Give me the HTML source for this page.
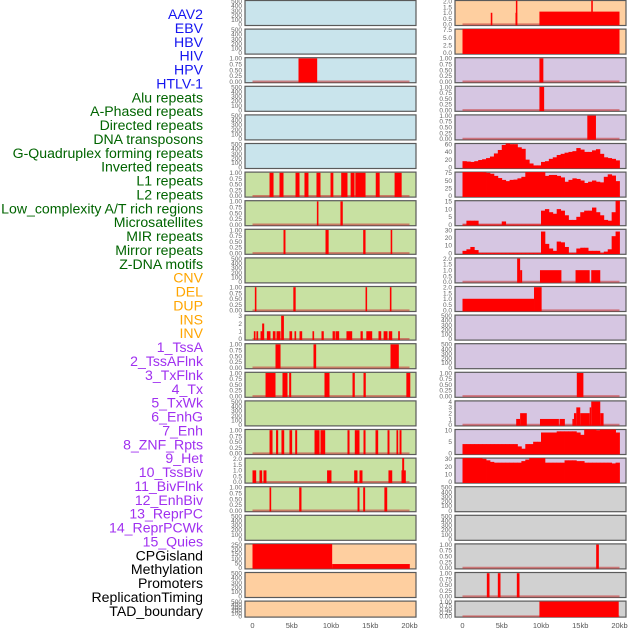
<!DOCTYPE html>
<html><head><meta charset="utf-8"><style>
html,body{margin:0;padding:0;background:#fff;}
svg{display:block;font-family:"Liberation Sans",sans-serif;}
</style></head><body>
<svg id="chart" width="630" height="630" viewBox="0 0 630 630"></svg>
<script>
// ---- track labels ----
const trackLabels = ["AAV2","EBV","HBV","HIV","HPV","HTLV-1","Alu repeats","A-Phased repeats","Directed repeats","DNA transposons","G-Quadruplex forming repeats","Inverted repeats","L1 repeats","L2 repeats","Low_complexity A/T rich regions","Microsatellites","MIR repeats","Mirror repeats","Z-DNA motifs","CNV","DEL","DUP","INS","INV","1_TssA","2_TssAFlnk","3_TxFlnk","4_Tx","5_TxWk","6_EnhG","7_Enh","8_ZNF_Rpts","9_Het","10_TssBiv","11_BivFlnk","12_EnhBiv","13_ReprPC","14_ReprPCWk","15_Quies","CPGisland","Methylation","Promoters","ReplicationTiming","TAD_boundary"];
const labelGroups = ["virus","virus","virus","virus","virus","virus","rep","rep","rep","rep","rep","rep","rep","rep","rep","rep","rep","rep","rep","sv","sv","sv","sv","sv","chr","chr","chr","chr","chr","chr","chr","chr","chr","chr","chr","chr","chr","chr","chr","oth","oth","oth","oth","oth"];
const xTickValues = [0,5,10,15,20];
const xTickLabels = ["0","5kb","10kb","15kb","20kb"];

// ---- left column data: [startKb, endKb, value] ----
const segsL2 = [[5.86,8.24,1]];
const segsL6 = [[2.17,2.68,1],[3.44,3.95,1],[5.48,5.99,1],[6.62,7.13,1],[8.15,8.66,1],[9.94,10.3,1],[11.3,12.1,1],[12.5,13.0,1],[13.1,14.4,1],[15.7,16.2,1],[18.1,19.0,1]];
const segsL7 = [[8.2,8.4,1],[11.2,11.5,1]];
const segsL8 = [[3.95,4.2,1],[9.3,9.7,1],[14.1,14.4,1],[17.6,17.8,1]];
const segsL10 = [[0.3,0.5,1],[5.2,5.5,1],[14.4,14.6,1],[17.5,17.7,1]];
const segsL11 = [[0.17,0.38,1],[0.5,0.72,1],[1.02,1.3,1],[1.23,1.49,2],[1.83,2.29,1],[2.59,2.93,1],[3.06,3.57,1],[3.65,4.0,3],[4.71,5.05,1],[5.35,5.56,1],[5.99,6.33,1],[7.64,7.85,1],[8.79,9.08,1],[10.2,10.5,1],[10.57,11.04,1],[11.97,12.7,1],[13.76,14.05,1],[14.5,15.25,1],[16.05,16.4,1],[16.7,17.2,1],[17.36,17.8,1],[18.56,18.77,1]];
const segsL12 = [[2.93,3.57,1],[7.77,8.11,1],[17.58,18.64,1]];
const segsL13 = [[1.66,2.93,1],[3.82,4.46,1],[4.67,4.93,1],[9.17,9.81,1],[12.74,13.03,1],[14.14,14.43,1],[19.6,20.1,1]];
const segsL15 = [[2.17,2.55,1],[3.0,3.27,1],[3.69,4.04,1],[4.71,5.05,1],[5.44,5.69,1],[7.9,8.54,1],[8.66,9.26,1],[12.1,12.36,1],[13.03,13.63,1],[14.14,14.4,1],[15.67,16.01,1],[17.2,17.45,1],[18.34,18.56,1],[18.73,18.98,1]];
const segsL16 = [[0,0.47,1],[0.89,1.23,1],[1.4,1.78,1],[9.5,10.06,1],[12.95,13.37,1],[13.63,14.01,1],[17.32,17.8,1],[18.98,19.53,1],[19.07,19.32,2.2]];
const segsL17 = [[2.17,2.38,1],[5.95,6.24,1],[13.38,13.63,1],[14.1,14.35,1],[16.8,17.16,1]];
const segsL19 = [[0,10.15,255],[10.15,20.04,40]];

// ---- right column data ----
const segsR0 = [[3.6,3.8,1],[6.75,6.96,1],[6.8,6.96,2.5],[9.8,20,1.1],[16.4,16.6,2.5]];
const segsR1 = [[0,20,8.6]];
const segsR2 = [[9.8,10.3,1]];
const segsR3 = [[9.8,10.4,1]];
const segsR4 = [[15.9,17.0,1]];
const profR5 = [16,15,14,16,19,21,24,28,36,45,58,65,60,60,52,48,20,10,5,5,14,16,22,26,32,35,38,40,42,50,46,40,40,44,47,35,26,24,22,18];
const profR6 = [80,79,79,78,78,77,75,72,65,58,52,48,52,53,57,62,84,90,92,91,90,65,68,68,65,60,46,52,57,55,50,42,46,50,46,44,62,70,66,48];
const profR7 = [0,2.5,2.5,2.5,0,0,0,0,0,0,2,0,0,0,0,0,0,0,0,0,9,10,8,7,10,9,6,3,3,5,8,9,9,11,8,6,3,2.5,8,19];
const profR8 = [3,5,8,4,0,0,0,0,0,0,0,0,0,0,0,0,0,0,0,0,28,12,6,3,15,14,8,0,0,6,7,7,3,3,3,0,2,5,22,28];
const segsR9 = [[6.96,7.34,2],[7.34,7.6,1],[9.87,12.6,1],[14.4,16.2,1],[16.4,17.55,1]];
const segsR10 = [[0,9.11,1],[9.11,10.08,2]];
const segsR13 = [[14.56,15.4,1]];
const segsR14 = [[6.84,7.34,1],[7.34,8.19,2],[9.87,12.28,1],[12.36,13.04,1],[14.0,14.2,1],[14.2,14.5,2],[14.5,15.0,3],[15.0,16.2,2],[16.2,16.4,3],[16.4,17.55,4],[17.55,17.97,2]];
const profR15 = [4,4,4,4,4,4,4,4,4,4,4,4,4,4,3,2,4,4,5,5,9,9,9,9,9.5,9.5,9.5,9.5,9.5,9,8,13,13,11,10,13,14,14,13,9];
const profR16 = [38,35,35,35,34,30,28,26,25,25,25,25,25,25,25,27,29,31,35,37,37,25,25,25,25,25,28,28,28,27,27,25,25,25,25,25,25,25,24,25];
const segsR19 = [[17.03,17.37,1]];
const segsR20 = [[3.1,3.44,1],[4.5,4.84,1],[6.92,7.26,1]];
const segsR21 = [[9.8,19.9,1]];

const ticks01 = [0,0.25,0.5,0.75,1];
const ticks500 = [0,100,200,300,400,500];

const bgColors = {blue:"#c9e4ec",green:"#c8e1a2",orange:"#fecfa0",purple:"#d6c6e2",gray:"#d1d1d1"};
const tracks = [];
function T(col,row,bg,ticks,dec,segs,prof,name){tracks.push({col,row,bg,ticks,dec,segs,prof,name});}
T(0,0,"blue",ticks500,0,null,null,"aav2");
T(0,1,"blue",ticks500,0,null,null,"ebv");
T(0,2,"blue",ticks01,2,segsL2,null,"hbv");
T(0,3,"blue",ticks500,0,null,null,"hiv");
T(0,4,"blue",ticks500,0,null,null,"hpv");
T(0,5,"blue",ticks500,0,null,null,"htlv-1");
T(0,6,"green",ticks01,2,segsL6,null,"alu");
T(0,7,"green",ticks01,2,segsL7,null,"a-phased");
T(0,8,"green",ticks01,2,segsL8,null,"directed");
T(0,9,"green",ticks500,0,null,null,"dna-transposons");
T(0,10,"green",ticks01,2,segsL10,null,"g-quadruplex");
T(0,11,"green",[0,1,2,3],0,segsL11,null,"inverted");
T(0,12,"green",ticks01,2,segsL12,null,"l1");
T(0,13,"green",ticks01,2,segsL13,null,"l2");
T(0,14,"green",ticks500,0,null,null,"low-complexity");
T(0,15,"green",ticks01,2,segsL15,null,"microsatellites");
T(0,16,"green",[0,0.5,1,1.5,2],1,segsL16,null,"mir");
T(0,17,"green",ticks01,2,segsL17,null,"mirror");
T(0,18,"green",ticks500,0,null,null,"z-dna");
T(0,19,"orange",[0,50,100,150,200,250],0,segsL19,null,"cnv");
T(0,20,"orange",ticks500,0,null,null,"del");
T(0,21,"orange",ticks500,0,null,null,"dup");
T(1,0,"orange",[0,0.5,1,1.5,2],1,segsR0,null,"ins");
T(1,1,"orange",[0,2.5,5,7.5],1,segsR1,null,"inv");
T(1,2,"purple",ticks01,2,segsR2,null,"tssa");
T(1,3,"purple",ticks01,2,segsR3,null,"tssaflnk");
T(1,4,"purple",ticks01,2,segsR4,null,"txflnk");
T(1,5,"purple",[0,20,40,60],0,null,profR5,"tx");
T(1,6,"purple",[0,25,50,75],0,null,profR6,"txwk");
T(1,7,"purple",[0,5,10,15],0,null,profR7,"enhg");
T(1,8,"purple",[0,10,20,30],0,null,profR8,"enh");
T(1,9,"purple",[0,0.5,1,1.5,2],1,segsR9,null,"znf-rpts");
T(1,10,"purple",[0,0.5,1,1.5,2],1,segsR10,null,"het");
T(1,11,"purple",ticks500,0,null,null,"tssbiv");
T(1,12,"purple",ticks500,0,null,null,"bivflnk");
T(1,13,"purple",ticks01,2,segsR13,null,"enhbiv");
T(1,14,"purple",[0,1,2,3,4],0,segsR14,null,"reprpc");
T(1,15,"purple",[0,5,10],0,null,profR15,"reprpcwk");
T(1,16,"purple",[0,10,20,30],0,null,profR16,"quies");
T(1,17,"gray",ticks500,0,null,null,"cpgisland");
T(1,18,"gray",ticks500,0,null,null,"methylation");
T(1,19,"gray",ticks01,2,segsR19,null,"promoters");
T(1,20,"gray",ticks01,2,segsR20,null,"replication-timing");
T(1,21,"gray",ticks01,2,segsR21,null,"tad-boundary");

const NS="http://www.w3.org/2000/svg";
const svg=document.getElementById("chart");
function el(tag,attrs,parent){const e=document.createElementNS(NS,tag);for(const k in attrs)e.setAttribute(k,attrs[k]);(parent||svg).appendChild(e);return e;}

const colX=[245,455], panelW=171, zeroOff=7.5, kbPx=7.85;
function xScale(col,kb){return colX[col]+zeroOff+kb*kbPx;}
function rowTop(r){return r*28.6+0.5;}
function rowH(r){return r===21?16:25;}

const labelColors={virus:"#1515f0",rep:"#006400",sv:"#ffa500",chr:"#a030f0",oth:"#000"};
trackLabels.forEach((t,k)=>{
  const e=el("text",{x:203,y:14+k*13.88+5,"text-anchor":"end","font-size":"14.1",fill:labelColors[labelGroups[k]]});
  e.textContent=t;
  
  
});

let cid=0;
tracks.forEach(tr=>{
  const x0=colX[tr.col], y0=rowTop(tr.row), h=rowH(tr.row);
  const g=el("g",{});
  
  
  const top=tr.ticks[tr.ticks.length-1];
  const dMin=-0.05*top, dMax=top*1.03;
  const ys=v=>y0+h-(v-dMin)/(dMax-dMin)*h;
  el("rect",{x:x0,y:y0,width:panelW,height:h,fill:bgColors[tr.bg],stroke:"#5a5a5a","stroke-width":1.2},g);
  const cp=el("clipPath",{id:"c"+cid},g);
  el("rect",{x:x0,y:y0,width:panelW,height:h},cp);
  const dg=el("g",{"clip-path":"url(#c"+cid+")"},g);
  cid++;
  const hasData=tr.segs||tr.prof;
  if(hasData){
    const bl=el("line",{x1:xScale(tr.col,0),x2:xScale(tr.col,20),y1:ys(0),y2:ys(0),stroke:"rgba(200,60,60,0.6)","stroke-width":2},dg);
    
    
  }
  if(tr.segs){
    tr.segs.forEach(s=>{
      const xa=xScale(tr.col,s[0]), xb=xScale(tr.col,s[1]);
      const r=el("rect",{x:xa,y:ys(s[2]),width:Math.max(1.5,xb-xa),height:ys(0)-ys(s[2])+1,fill:"#ff0000"},dg);
      
      
    });
  }
  if(tr.prof){
    const bw=20/tr.prof.length;
    tr.prof.forEach((v,i)=>{
      const xa=xScale(tr.col,i*bw), xb=xScale(tr.col,(i+1)*bw);
      const r=el("rect",{x:xa,y:ys(v),width:xb-xa+0.4,height:Math.max(0,ys(0)-ys(v)+1),fill:"#ff0000"},dg);
      
      
    });
  }
  tr.ticks.forEach(t=>{
    const e=el("text",{x:x0-3,y:ys(t)+2.3,"text-anchor":"end","font-size":"6.5",fill:"#666"},g);
    e.textContent=t.toFixed(tr.dec);
    
    
  });
});

[0,1].forEach(col=>{
  xTickValues.forEach((v,i)=>{
    const e=el("text",{x:xScale(col,v),y:628,"text-anchor":"middle","font-size":"7.5",fill:"#555"});
    e.textContent=xTickLabels[i];
    
    
  });
});
</script>
</body></html>
